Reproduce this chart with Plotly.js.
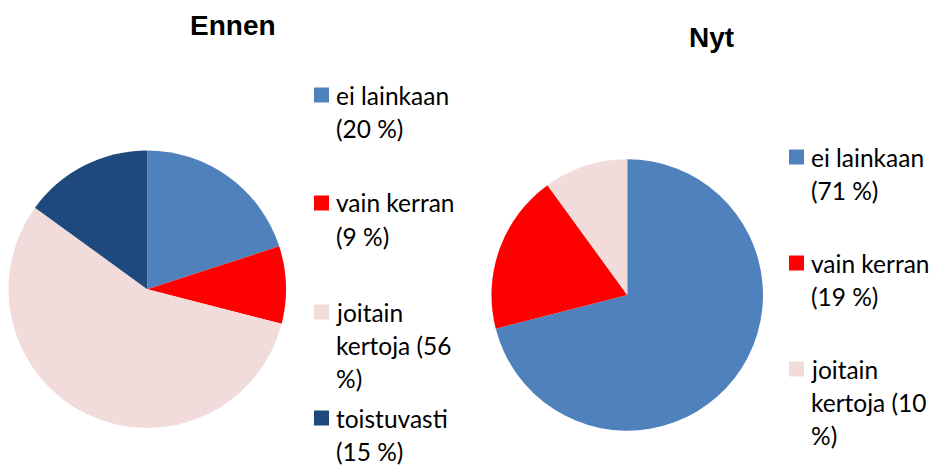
<!DOCTYPE html>
<html>
<head>
<meta charset="utf-8">
<script src="https://cdn.plot.ly/plotly-3.0.1.min.js"></script>
<style>html,body{margin:0;padding:0;background:#fff;}#chart{width:930px;height:465px;}</style>
</head>
<body>
<div id="chart"></div>
<script>
// Data
var categoriesBefore = ['ei lainkaan', 'vain kerran', 'joitain kertoja', 'toistuvasti'];
var valuesBefore = [20, 9, 56, 15];
var colorsBefore = ['#4F81BD', '#FF0000', '#F2DCDB', '#1F497D'];

var categoriesNow = ['ei lainkaan', 'vain kerran', 'joitain kertoja'];
var valuesNow = [71, 19, 10];
var colorsNow = ['#4F81BD', '#FF0000', '#F2DCDB'];

var titleBefore = 'Ennen';
var titleNow = 'Nyt';

var W = 930, H = 465;
function px(x) { return x / W; }
function py(y) { return 1 - y / H; }

var FONT = 'Lato, "Open Sans", "Liberation Sans", sans-serif';

function wrap(text, maxChars) {
  var words = text.split(' ');
  var lines = [], cur = '';
  words.forEach(function (w) {
    if (cur === '') cur = w;
    else if ((cur + ' ' + w).length <= maxChars) cur += ' ' + w;
    else { lines.push(cur); cur = w; }
  });
  if (cur) lines.push(cur);
  return lines;
}

var traces = [
  {
    type: 'pie', values: valuesBefore, labels: categoriesBefore,
    marker: { colors: colorsBefore, line: { width: 0 } },
    sort: false, direction: 'clockwise', rotation: 0,
    textinfo: 'none', hoverinfo: 'label+percent', showlegend: false,
    domain: { x: [px(8.5), px(286)], y: [py(428.5), py(150)] }
  },
  {
    type: 'pie', values: valuesNow, labels: categoriesNow,
    marker: { colors: colorsNow, line: { width: 0 } },
    sort: false, direction: 'clockwise', rotation: 0,
    textinfo: 'none', hoverinfo: 'label+percent', showlegend: false,
    domain: { x: [px(491.5), px(763)], y: [py(431), py(159)] }
  }
];

var annotations = [
  { text: '<b>' + titleBefore + '</b>', x: px(233), y: py(26), xref: 'paper', yref: 'paper',
    xanchor: 'center', yanchor: 'middle', showarrow: false,
    font: { family: '"Liberation Sans", Arial, sans-serif', size: 28, color: '#000' } },
  { text: '<b>' + titleNow + '</b>', x: px(711), y: py(37), xref: 'paper', yref: 'paper',
    xanchor: 'center', yanchor: 'middle', showarrow: false,
    font: { family: '"Liberation Sans", Arial, sans-serif', size: 28, color: '#000' } }
];
var shapes = [];

function addLegend(cats, vals, cols, sqX, txtX, firstYs) {
  cats.forEach(function (c, i) {
    var lines = wrap(c + ' (' + vals[i] + ' %)', 11);
    lines.forEach(function (ln, j) {
      annotations.push({
        text: ln, x: px(txtX), y: py(firstYs[i] + j * 33), xref: 'paper', yref: 'paper',
        xanchor: 'left', yanchor: 'middle', showarrow: false, borderpad: 0,
        font: { family: FONT, size: 24.5, color: '#000' }
      });
    });
    shapes.push({
      type: 'rect', xref: 'paper', yref: 'paper',
      x0: px(sqX), x1: px(sqX + 15), y0: py(firstYs[i] - 7.5), y1: py(firstYs[i] + 7.5),
      fillcolor: cols[i], line: { width: 0 }
    });
  });
}
addLegend(categoriesBefore, valuesBefore, colorsBefore, 314, 335, [95, 203, 312, 418]);
addLegend(categoriesNow, valuesNow, colorsNow, 789, 810, [157, 263, 369]);

var layout = {
  width: W, height: H,
  margin: { l: 0, r: 0, t: 0, b: 0 },
  paper_bgcolor: '#fff', plot_bgcolor: '#fff',
  showlegend: false,
  annotations: annotations, shapes: shapes
};

Plotly.newPlot('chart', traces, layout, { displayModeBar: false, staticPlot: true });
</script>
</body>
</html>
